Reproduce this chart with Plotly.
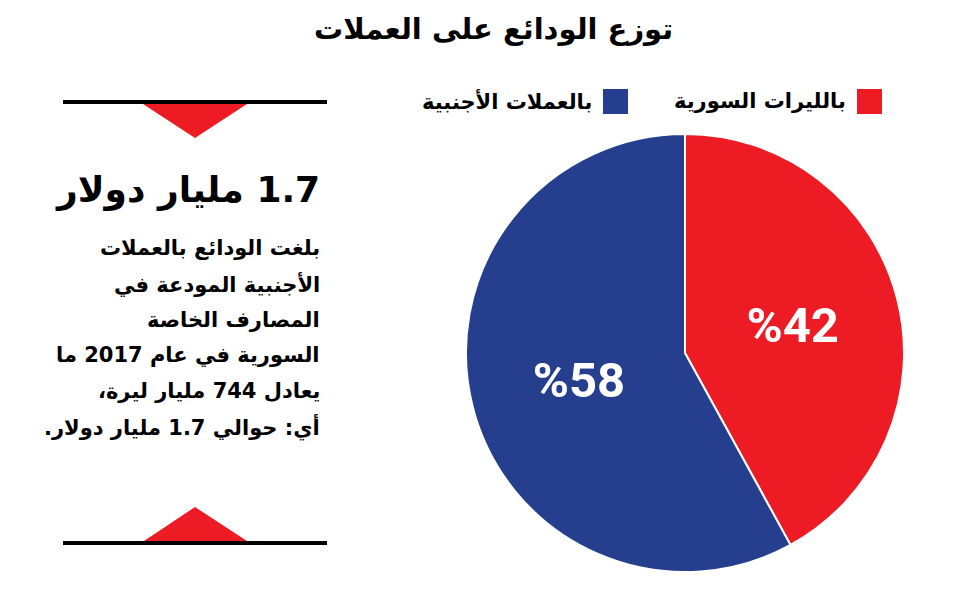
import plotly.graph_objects as go

# data
labels = ["بالليرات السورية", "بالعملات الأجنبية"]
values = [42, 58]
colors = ["#ED1C24", "#253F8E"]

title_text = "توزع الودائع على العملات"
headline = "1.7 مليار دولار"
body_lines = [
    "بلغت الودائع بالعملات",
    "الأجنبية المودعة في",
    "المصارف الخاصة",
    "السورية في عام 2017 ما",
    "يعادل 744 مليار ليرة،",
    "أي: حوالي 1.7 مليار دولار.",
]

W, H = 964, 592
OFF = 8  # page body margin
AR = "DejaVu Sans"


def rtl(s):
    # embed as right-to-left so numbers and punctuation sit correctly
    return "<b>\u202b" + s + "\u202c</b>"


def fx(px):
    return (px - OFF) / W


def fy(py):
    return 1 - (py - OFF) / H


fig = go.Figure(go.Pie(
    labels=labels,
    values=values,
    text=["%" + str(v) for v in values],
    textinfo="text",
    textposition="inside",
    insidetextfont=dict(family="Liberation Sans Narrow, Roboto", size=49,
                        color="white", weight="bold"),
    marker=dict(colors=colors, line=dict(color="white", width=2)),
    sort=False,
    direction="clockwise",
    rotation=0,
    domain=dict(x=[fx(466), fx(904)], y=[fy(572), fy(134)]),
    showlegend=False,
    hoverinfo="label+percent",
))

ann = []
shapes = []

# title
ann.append(dict(x=493, y=29, text=rtl(title_text), showarrow=False,
                font=dict(family=AR, size=29, color="black")))

# legend (right-to-left, square on the right of the label)
leg_sq = [857, 603]
for lab, col, sx in zip(labels, colors, leg_sq):
    shapes.append(dict(type="rect", x0=sx, x1=sx + 25, y0=89, y1=114,
                       fillcolor=col, line=dict(width=0)))
    ann.append(dict(x=sx - 9, y=101, text=rtl(lab), showarrow=False,
                    xanchor="right", font=dict(family=AR, size=21, color="black")))

# left panel: rules and triangles
shapes.append(dict(type="line", x0=63, x1=327, y0=102, y1=102,
                   line=dict(color="black", width=4)))
shapes.append(dict(type="path", path="M 143 104 L 247 104 L 195 138 Z",
                   fillcolor="#ED1C24", line=dict(width=0)))
shapes.append(dict(type="line", x0=63, x1=327, y0=543, y1=543,
                   line=dict(color="black", width=4)))
shapes.append(dict(type="path", path="M 144 541 L 247 541 L 195 507 Z",
                   fillcolor="#ED1C24", line=dict(width=0)))

ann.append(dict(x=322, y=190, text=rtl(headline), showarrow=False,
                xanchor="right", font=dict(family=AR, size=36, color="black")))

for i, line in enumerate(body_lines):
    ann.append(dict(x=322, y=248 + i * 35.8, text=rtl(line), showarrow=False,
                    xanchor="right", font=dict(family=AR, size=21, color="black")))

for a in ann:
    a.update(xref="x", yref="y", yanchor="middle")
for s in shapes:
    s.update(xref="x", yref="y", layer="above")

fig.update_layout(
    width=W, height=H,
    margin=dict(l=0, r=0, t=0, b=0),
    paper_bgcolor="white",
    plot_bgcolor="rgba(0,0,0,0)",
    xaxis=dict(range=[OFF, W + OFF], visible=False, fixedrange=True),
    yaxis=dict(range=[H + OFF, OFF], visible=False, fixedrange=True),
    annotations=ann,
    shapes=shapes,
)

fig.write_html("out.html")
